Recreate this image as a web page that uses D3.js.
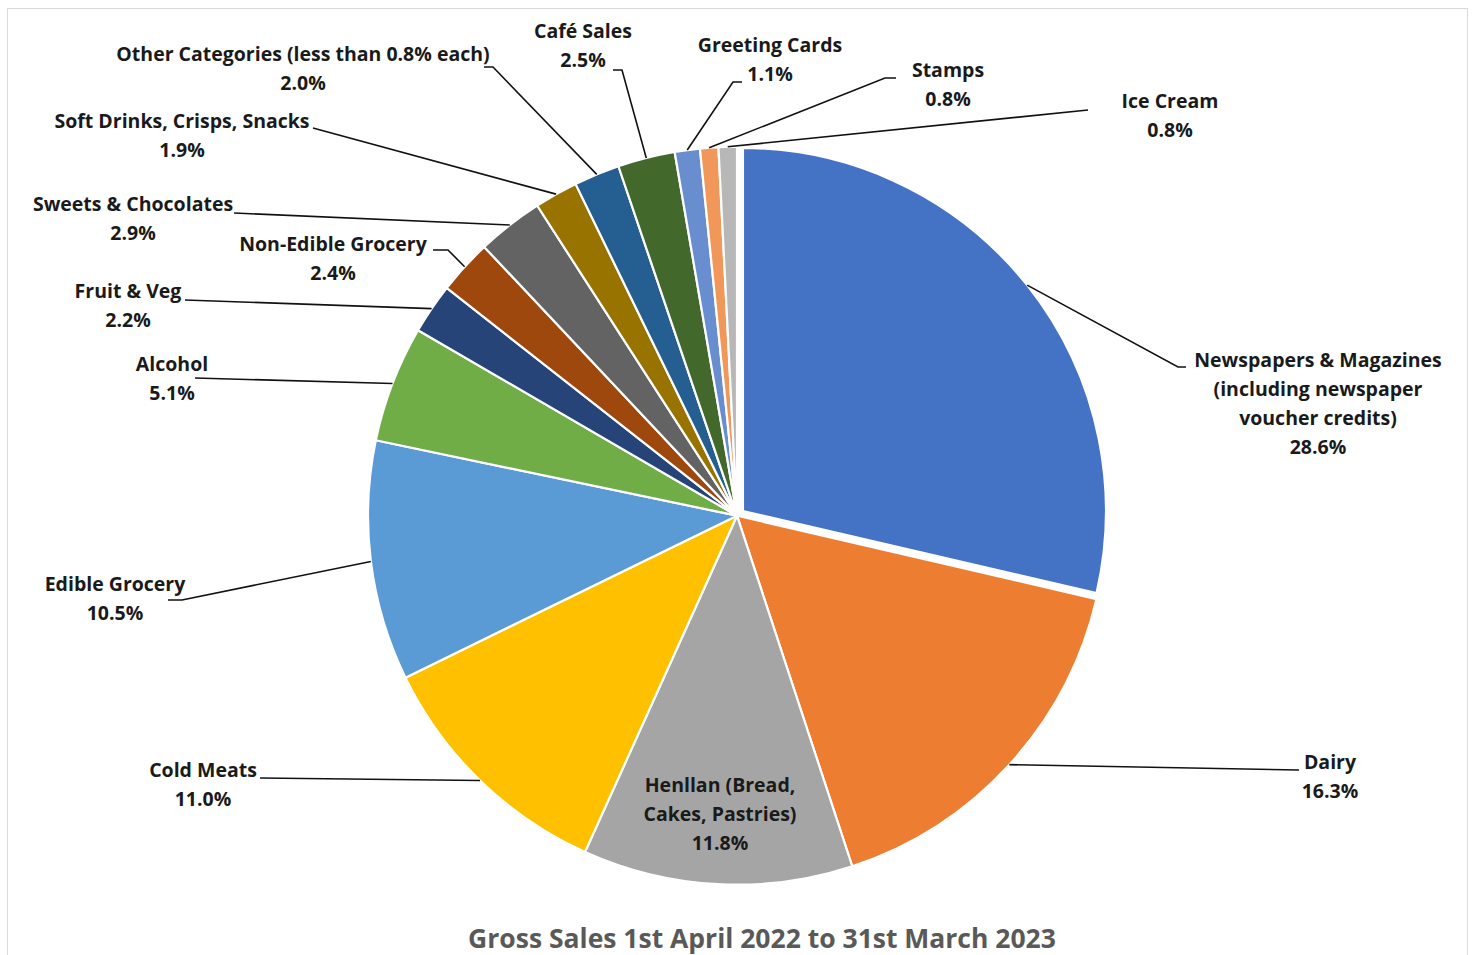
<!DOCTYPE html>
<html>
<head>
<meta charset="utf-8">
<script src="https://cdn.jsdelivr.net/npm/d3@7"></script>
<style>
  body { margin: 0; background: #fff; }
  text { font-family: "Open Sans", Lato, sans-serif; font-weight: 700; }
</style>
</head>
<body>
<script>
//dimensions
var width = 1475, height = 955;
var cx = 737, cy = 515.7, radius = 369;
var explodeOffset = 7.6, explodedRadius = 363;

//data (percent of gross sales), clockwise from 12 o'clock
var categories = [
    "Newspapers & Magazines\n(including newspaper\nvoucher credits)",
    "Dairy",
    "Henllan (Bread,\nCakes, Pastries)",
    "Cold Meats",
    "Edible Grocery",
    "Alcohol",
    "Fruit & Veg",
    "Non-Edible Grocery",
    "Sweets & Chocolates",
    "Soft Drinks, Crisps, Snacks",
    "Other Categories (less than 0.8% each)",
    "Café Sales",
    "Greeting Cards",
    "Stamps",
    "Ice Cream"
];
var values = [28.6, 16.3, 11.8, 11.0, 10.5, 5.1, 2.2, 2.4, 2.9, 1.9, 2.0, 2.5, 1.1, 0.8, 0.8];
var colors = ["#4472C4", "#ED7D31", "#A5A5A5", "#FFC000", "#5B9BD5", "#70AD47", "#264478", "#9E480E",
    "#636363", "#997300", "#255E91", "#43682B", "#698ED0", "#F1975A", "#B7B7B7"];
var exploded = ["Newspapers & Magazines\n(including newspaper\nvoucher credits)"];
var title = "Gross Sales 1st April 2022 to 31st March 2023";

//label placement: text centre x, first line y, leader end points (elbow first)
var labelLayout = [
    { x: 1318, y: 360, leader: [[1178, 367], [1186, 367]] },
    { x: 1330, y: 762, leader: [[1299, 770]] },
    { x: 720, y: 785, leader: null },
    { x: 203, y: 770, leader: [[260, 778]] },
    { x: 115, y: 584, leader: [[182, 600], [168, 600]] },
    { x: 172, y: 364, leader: [[195, 378]] },
    { x: 128, y: 291, leader: [[185, 300]] },
    { x: 333, y: 244, leader: [[448, 250], [433, 250]] },
    { x: 133, y: 204, leader: [[234, 213]] },
    { x: 182, y: 121, leader: [[313, 128]] },
    { x: 303, y: 54, leader: [[493, 67], [484, 67]] },
    { x: 583, y: 31, leader: [[622, 70], [613, 70]] },
    { x: 770, y: 45, leader: [[733, 82], [742, 82]] },
    { x: 948, y: 70, leader: [[885, 78], [896, 78]] },
    { x: 1170, y: 101, leader: [[1088, 110]] }
];
var lineGap = 29;

var dati = categories.map(function (c, i) {
    return { categoria: c, valore: values[i], colore: colors[i], label: labelLayout[i] };
});

//drawing space
var svg = d3.select("body")
    .append("svg")
    .attr("width", width)
    .attr("height", height);

//chart frame
svg.append("rect")
    .attr("x", 7.5)
    .attr("y", 8.5)
    .attr("width", 1460)
    .attr("height", 980)
    .attr("fill", "#fff")
    .attr("stroke", "#d9d9d9")
    .attr("stroke-width", 1);

var pie = d3.pie()
    .sort(null)
    .value(function (d) { return d.valore; });

var arcs = pie(dati);

function isExploded(d) { return exploded.indexOf(d.data.categoria) >= 0; }
function rOf(d) { return isExploded(d) ? explodedRadius : radius; }
function shift(d) {
    if (!isExploded(d)) return [0, 0];
    var a = (d.startAngle + d.endAngle) / 2;
    return [explodeOffset * Math.sin(a), -explodeOffset * Math.cos(a)];
}

var arc = d3.arc()
    .innerRadius(0)
    .outerRadius(function (d) { return rOf(d); });

var g = svg.append("g")
    .attr("transform", "translate(" + cx + "," + cy + ")");

//slices
g.selectAll("path.slice")
    .data(arcs)
    .enter().append("path")
    .attr("class", "slice")
    .attr("transform", function (d) { var s = shift(d); return "translate(" + s[0] + "," + s[1] + ")"; })
    .attr("d", arc)
    .attr("fill", function (d) { return d.data.colore; })
    .attr("stroke", "#fff")
    .attr("stroke-width", 2.2)
    .attr("stroke-linejoin", "round");

//leader lines: from the slice edge at its mid angle to the label
var edge = d3.arc()
    .innerRadius(function (d) { return rOf(d); })
    .outerRadius(function (d) { return rOf(d); });

var line = d3.line();

svg.append("g")
    .selectAll("path")
    .data(arcs.filter(function (d) { return d.data.label.leader; }))
    .enter().append("path")
    .attr("d", function (d) {
        var p = edge.centroid(d), s = shift(d);
        var pts = [[cx + p[0] + s[0], cy + p[1] + s[1]]].concat(d.data.label.leader);
        return line(pts);
    })
    .attr("fill", "none")
    .attr("stroke", "#111")
    .attr("stroke-width", 1.6);

//labels
var labels = svg.append("g")
    .selectAll("text")
    .data(arcs)
    .enter().append("text")
    .attr("text-anchor", "middle")
    .attr("font-size", 19.5)
    .attr("fill", "#1a1a1a");

labels.each(function (d) {
    var t = d3.select(this);
    var lines = d.data.categoria.split("\n").concat([d3.format(".1f")(d.data.valore) + "%"]);
    lines.forEach(function (l, i) {
        t.append("tspan")
            .attr("x", d.data.label.x)
            .attr("y", d.data.label.y + i * lineGap)
            .attr("dy", "0.35em")
            .text(l);
    });
});

//title
svg.append("text")
    .attr("x", 762)
    .attr("y", 948)
    .attr("text-anchor", "middle")
    .attr("font-size", 26.5)
    .attr("fill", "#595959")
    .text(title);
</script>
</body>
</html>
